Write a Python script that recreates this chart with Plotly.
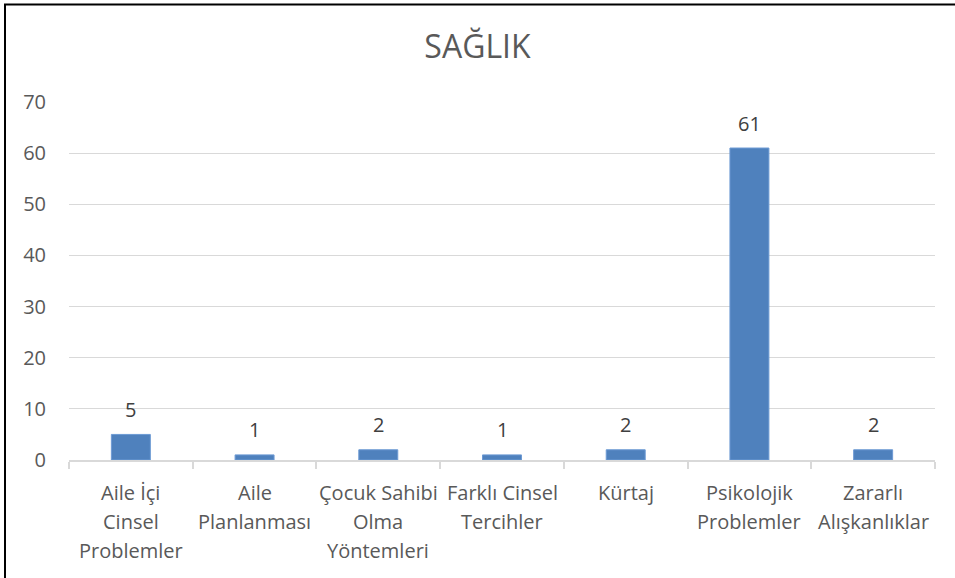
import plotly.graph_objects as go

categories = ["Aile İçi<br>Cinsel<br>Problemler", "Aile<br>Planlanması", "Çocuk Sahibi<br>Olma<br>Yöntemleri",
              "Farklı Cinsel<br>Tercihler", "Kürtaj", "Psikolojik<br>Problemler", "Zararlı<br>Alışkanlıklar"]
values = [5, 1, 2, 1, 2, 61, 2]
y_ticks = [0, 10, 20, 30, 40, 50, 60, 70]
title = "SAĞLIK"

FONT = "Open Sans"
FS = 20
W, H = 955, 578
L, R, T, B = 69, 20, 102, 118
pw, ph = W - L - R, H - T - B

fig = go.Figure(go.Bar(
    x=categories, y=values,
    marker=dict(color="#4f81bd", line=dict(color="#6d9ad4", width=1)),
    width=0.315, hoverinfo="x+y",
))

# data labels
for c, v in zip(categories, values):
    fig.add_annotation(x=c, y=v, xref="x", yref="y", text=str(v), showarrow=False,
                       yanchor="middle", yshift=25,
                       font=dict(size=FS, color="#404040", family=FONT))

# category labels, one annotation per line for Excel-like spacing
for c in categories:
    for i, line in enumerate(c.split("<br>")):
        fig.add_annotation(x=c, y=0, xref="x", yref="y", text=line, showarrow=False,
                           yanchor="middle", yshift=-(32 + 29 * i),
                           font=dict(size=FS, color="#595959", family=FONT))

fig.update_layout(
    width=W, height=H,
    margin=dict(l=L, r=R, t=T, b=B),
    paper_bgcolor="white", plot_bgcolor="white",
    title=dict(text=title, x=0.5, xanchor="center", y=1 - 47 / H, yanchor="middle",
               font=dict(size=32, color="#595959", family=FONT)),
    font=dict(family=FONT, color="#595959", size=FS),
    showlegend=False,
)
fig.update_yaxes(range=[0, 70], tickvals=y_ticks, showgrid=True, gridcolor="#d9d9d9", gridwidth=1,
                 zeroline=False, showline=False, ticks="", ticklabelstandoff=22,
                 tickfont=dict(size=FS, color="#595959", family=FONT))
fig.update_xaxes(showline=True, linecolor="#d9d9d9", linewidth=1.5, ticks="outside", tickson="boundaries",
                 ticklen=7, tickcolor="#d9d9d9", tickwidth=1.5, showgrid=False, showticklabels=False)

# outer border (top and left edges visible)
fig.add_shape(type="line", xref="paper", yref="paper",
              x0=(4 - L) / pw, x1=(W + 10 - L) / pw, y0=1 + (T - 4.5) / ph, y1=1 + (T - 4.5) / ph,
              line=dict(color="black", width=2))
fig.add_shape(type="line", xref="paper", yref="paper",
              x0=(5 - L) / pw, x1=(5 - L) / pw, y0=1 + (T - 4) / ph, y1=-(B + 10) / ph,
              line=dict(color="black", width=2))

fig.write_html("out.html", config={"displayModeBar": False},
               post_script="document.body.style.margin='0';")
